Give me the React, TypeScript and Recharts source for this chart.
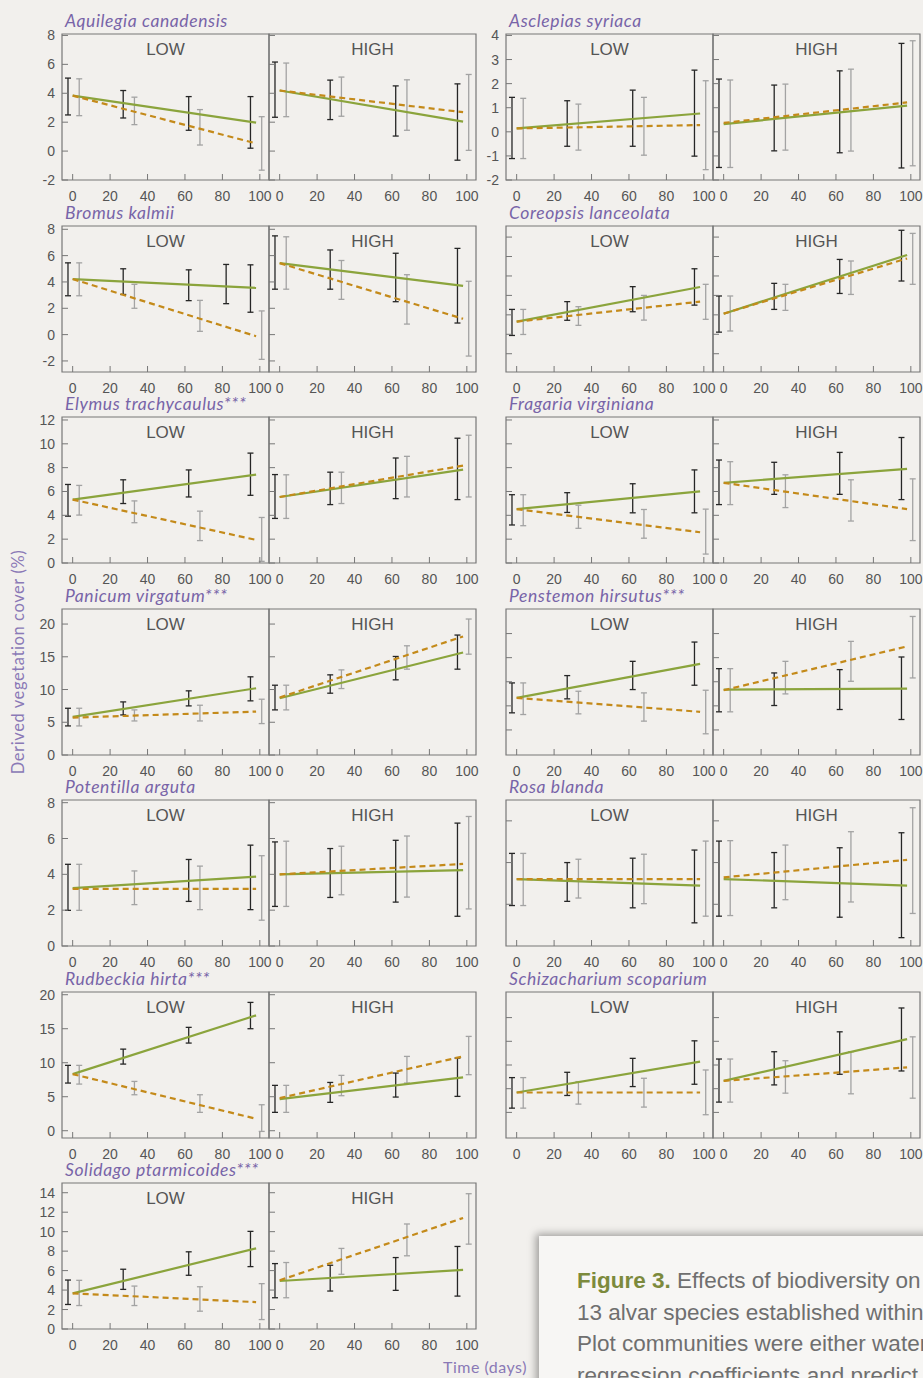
import React from 'react';
import { ComposedChart, Line, Scatter, ErrorBar, XAxis, YAxis, ReferenceArea } from 'recharts';

const SPECIES = [
  'Aquilegia canadensis', 'Asclepias syriaca', 'Bromus kalmii', 'Coreopsis lanceolata',
  'Elymus trachycaulus***', 'Fragaria virginiana', 'Panicum virgatum***', 'Penstemon hirsutus***',
  'Potentilla arguta', 'Rosa blanda', 'Rudbeckia hirta***', 'Schizacharium scoparium',
  'Solidago ptarmicoides***',
];

const X_TICKS = [0, 20, 40, 60, 80, 100];
const LINE_X = [0, 98];

const Y_DOMAINS: [number, number][] = [
  [-2, 8.1], [-2, 4.06], [-2.84, 8.25], [-0.94, 6.57], [0, 12.25], [0, 12.25], [0, 22.3],
  [-0.2, 30.1], [0, 8.15], [0, 7], [-1.07, 20.4], [-0.4, 30.4], [0, 15],
];
const Y_TICKS = [
  [-2, 0, 2, 4, 6, 8], [-2, -1, 0, 1, 2, 3, 4], [-2, 0, 2, 4, 6, 8], [0, 1, 2, 3, 4, 5, 6],
  [0, 2, 4, 6, 8, 10, 12], [0, 2, 4, 6, 8, 10, 12], [0, 5, 10, 15, 20], [5, 10, 15, 20, 25],
  [0, 2, 4, 6, 8], [2, 4, 6], [0, 5, 10, 15, 20], [5, 10, 15, 20, 25], [0, 2, 4, 6, 8, 10, 12, 14],
];
const Y_LABELLED = [true, true, true, false, true, false, true, false, true, false, true, false, true];

// regression lines: [value at day 0, value at day 98]
const LOW_GREEN = [[3.84, 1.97], [0.14, 0.76], [4.22, 3.55], [1.65, 3.43], [5.32, 7.42], [4.52, 6.01], [5.82, 10.2], [11.66, 18.7], [3.23, 3.87], [3.21, 2.89], [8.33, 16.96], [9.2, 15.7], [3.66, 8.28]];
const LOW_ORANGE = [[3.84, 0.53], [0.14, 0.28], [4.22, -0.12], [1.65, 2.68], [5.32, 1.94], [4.52, 2.58], [5.71, 6.63], [11.66, 8.76], [3.19, 3.19], [3.21, 3.21], [8.33, 1.76], [9.2, 9.2], [3.66, 2.76]];
const HIGH_GREEN = [[4.19, 2.04], [0.32, 1.09], [5.43, 3.7], [2.06, 5.08], [5.54, 7.84], [6.73, 7.89], [8.67, 15.66], [13.38, 13.59], [4.0, 4.24], [3.21, 2.89], [4.66, 7.84], [11.64, 20.45], [4.93, 6.07]];
const HIGH_ORANGE = [[4.19, 2.69], [0.37, 1.22], [5.43, 1.2], [2.06, 4.9], [5.54, 8.17], [6.73, 4.52], [8.78, 18.11], [13.24, 22.34], [4.0, 4.58], [3.29, 4.13], [4.8, 10.93], [11.64, 14.51], [5.0, 11.41]];

// error bars: [day, low, high]
const LOW_BLACK = [
  [[-2.5, 2.5, 5.05], [27, 2.29, 4.19], [62, 1.44, 3.77], [95, 0.2, 3.77]],
  [[-2.5, -1.11, 1.43], [27, -0.6, 1.29], [62, -0.6, 1.73], [95, -1.01, 2.56]],
  [[-2.5, 2.95, 5.45], [27, 3.05, 5.0], [62, 2.58, 4.92], [82, 2.35, 5.33], [95, 1.7, 5.3]],
  [[-2.5, 0.94, 2.28], [27, 1.72, 2.68], [62, 2.16, 3.45], [95, 2.5, 4.37]],
  [[-2.5, 3.93, 6.59], [27, 4.99, 6.98], [62, 5.54, 7.81], [95, 5.68, 9.22]],
  [[-2.5, 3.19, 5.73], [27, 4.24, 5.9], [62, 4.21, 6.65], [95, 4.21, 7.81]],
  [[-2.5, 4.44, 7.14], [27, 6.12, 8.11], [62, 7.5, 9.8], [95, 8.27, 11.94]],
  [[-2.5, 8.55, 14.76], [27, 11.45, 16.28], [62, 13.38, 19.24], [95, 14.28, 23.24]],
  [[-2.5, 1.99, 4.56], [62, 2.49, 4.83], [95, 2.03, 5.63]],
  [[-2.5, 1.94, 4.44], [27, 2.14, 4.0], [62, 1.83, 4.21], [95, 1.11, 4.6]],
  [[-2.5, 7.01, 9.61], [27, 9.8, 12.0], [62, 12.89, 15.2], [95, 15.0, 18.87]],
  [[-2.5, 5.9, 12.34], [27, 8.57, 13.46], [62, 10.45, 16.4], [95, 10.94, 20.1]],
  [[-2.5, 2.52, 5.03], [27, 4.07, 6.14], [62, 5.52, 7.93], [95, 6.41, 10.03]],
];
const LOW_GRAY = [
  [[3.5, 2.45, 5.0], [33, 1.83, 3.73], [68, 0.42, 2.87], [101, -1.32, 2.38]],
  [[3.5, -1.11, 1.39], [33, -0.76, 1.15], [68, -0.97, 1.43], [101, -1.57, 2.12]],
  [[3.5, 2.95, 5.45], [33, 2.0, 3.82], [68, 0.25, 2.6], [101, -1.88, 1.8]],
  [[3.5, 0.99, 2.28], [33, 1.46, 2.42], [68, 1.73, 3.0], [101, 1.77, 3.57]],
  [[3.5, 4.02, 6.51], [33, 3.38, 5.21], [68, 1.88, 4.35], [101, 0.14, 3.82]],
  [[3.5, 3.13, 5.73], [33, 2.91, 4.85], [68, 2.08, 4.49], [101, 0.75, 4.52]],
  [[3.5, 4.44, 7.14], [33, 5.2, 6.89], [68, 5.2, 7.6], [101, 4.8, 8.52]],
  [[3.5, 8.2, 14.76], [33, 8.34, 13.03], [68, 6.83, 12.69], [101, 4.2, 13.24]],
  [[3.5, 1.99, 4.56], [33, 2.31, 4.19], [68, 2.03, 4.46], [101, 1.44, 5.04]],
  [[3.5, 1.94, 4.44], [33, 2.3, 4.16], [68, 2.03, 4.4], [101, 1.43, 5.03]],
  [[3.5, 6.86, 9.61], [33, 5.29, 7.25], [68, 2.7, 5.29], [101, -0.1, 3.82]],
  [[3.5, 5.9, 12.34], [33, 6.75, 11.5], [68, 6.12, 12.2], [101, 4.51, 13.95]],
  [[3.5, 2.41, 5.0], [33, 2.41, 4.41], [68, 1.83, 4.34], [101, 0.97, 4.66]],
];
const HIGH_BLACK = [
  [[-2.5, 2.34, 6.16], [27, 2.18, 4.91], [62, 1.04, 4.51], [95, -0.63, 4.65]],
  [[-2.5, -1.48, 2.19], [27, -0.79, 1.94], [62, -0.87, 2.53], [95, -1.5, 3.67]],
  [[-2.5, 3.45, 7.5], [27, 3.45, 6.43], [62, 2.5, 6.18], [95, 0.88, 6.55]],
  [[-2.5, 1.11, 2.97], [27, 2.28, 3.62], [62, 3.1, 4.85], [95, 3.74, 6.35]],
  [[-2.5, 3.74, 7.42], [27, 4.9, 7.62], [62, 5.4, 8.81], [95, 5.32, 10.47]],
  [[-2.5, 4.9, 8.64], [27, 5.76, 8.45], [62, 5.76, 9.28], [95, 5.32, 10.53]],
  [[-2.5, 6.89, 10.66], [27, 9.44, 12.24], [62, 11.48, 15.05], [95, 13.11, 18.32]],
  [[-2.5, 8.76, 17.72], [27, 10.07, 16.83], [62, 9.24, 17.52], [95, 7.17, 20.14]],
  [[-2.5, 2.21, 5.81], [27, 2.71, 5.44], [62, 2.45, 5.9], [95, 1.66, 6.86]],
  [[-2.5, 1.43, 5.03], [27, 1.83, 4.48], [62, 1.38, 4.71], [95, 0.4, 5.43]],
  [[-2.5, 2.7, 6.67], [27, 4.17, 7.1], [62, 4.95, 8.48], [95, 5.05, 10.69]],
  [[-2.5, 7.17, 16.26], [27, 10.8, 17.8], [62, 13.04, 22.0], [95, 13.74, 27.03]],
  [[-2.5, 3.21, 6.72], [27, 3.9, 6.55], [62, 3.97, 7.34], [95, 3.38, 8.48]],
];
const HIGH_GRAY = [
  [[3.5, 2.38, 6.09], [33, 2.41, 5.12], [68, 1.44, 4.93], [101, 0.05, 5.3]],
  [[3.5, -1.48, 2.15], [33, -0.76, 1.98], [68, -0.8, 2.6], [101, -1.41, 3.78]],
  [[3.5, 3.45, 7.43], [33, 2.68, 5.63], [68, 0.8, 4.55], [101, -1.63, 4.05]],
  [[3.5, 1.17, 2.97], [33, 2.23, 3.57], [68, 3.05, 4.77], [101, 3.57, 6.19]],
  [[3.5, 3.74, 7.4], [33, 4.99, 7.62], [68, 5.54, 8.95], [101, 5.54, 10.72]],
  [[3.5, 4.9, 8.5], [33, 4.65, 7.4], [68, 3.52, 6.98], [101, 1.88, 7.06]],
  [[3.5, 6.89, 10.66], [33, 10.15, 13.0], [68, 13.11, 16.68], [101, 15.4, 20.77]],
  [[3.5, 8.76, 17.72], [33, 12.48, 19.24], [68, 15.1, 23.38], [101, 15.79, 28.55]],
  [[3.5, 2.21, 5.85], [33, 2.86, 5.57], [68, 2.73, 6.14], [101, 2.07, 7.23]],
  [[3.5, 1.46, 5.05], [33, 2.22, 4.84], [68, 2.11, 5.48], [101, 1.56, 6.63]],
  [[3.5, 2.7, 6.67], [33, 5.15, 8.14], [68, 7.01, 10.93], [101, 8.24, 13.87]],
  [[3.5, 7.17, 16.26], [33, 9.06, 15.9], [68, 8.92, 17.8], [101, 8.0, 20.94]],
  [[3.5, 3.21, 6.83], [33, 5.62, 8.28], [68, 7.52, 10.79], [101, 8.72, 13.9]],
];

const X_DOMAIN: [number, number] = [-5.7, 104.9];
const ROW_TOPS = [34, 225.5, 417, 608.5, 800, 991.5, 1183];
const COL_LEFTS = [62, 506];
const PLOT_W = 207;
const PLOT_H = 146;
const ML = 40;
const MR = 8;
const MT = 14;
const XH = 30;

const BG = '#f2f0ed';
const AXIS = '#777';
const TEXT = '#555';
const PURPLE = '#7864a8';
const GREEN = '#8ba43c';
const ORANGE = '#c48a1a';
const TICK_FONT = '"Liberation Sans", Arial, sans-serif';

const toLine = (v: number[]) => LINE_X.map((x, k) => ({ x, y: v[k] }));
const toBars = (b: number[][]) =>
  b.map(([x, lo, hi]) => ({ x, y: (lo + hi) / 2, err: (hi - lo) / 2 }));

const XTick = (props: any) => {
  const { x, y, payload } = props;
  return (
    <g>
      <line x1={x} x2={x} y1={y} y2={y - 6} stroke={AXIS} />
      <text x={x} y={y + 16} textAnchor="middle" dominantBaseline="central" fontSize={14}
        fontFamily={TICK_FONT} fill={TEXT}>{payload.value}</text>
    </g>
  );
};

const YTick = (props: any) => {
  const { x, y, payload, labelled } = props;
  return (
    <g>
      <line x1={x} x2={x + 6} y1={y} y2={y} stroke={AXIS} />
      {labelled ? (
        <text x={x - 7} y={y} textAnchor="end" dominantBaseline="central" fontSize={14}
          fontFamily={TICK_FONT} fill={TEXT}>{payload.value}</text>
      ) : null}
    </g>
  );
};

const SubPanel = ({ i, high }: { i: number; high: boolean }) => {
  const row = Math.floor(i / 2);
  const col = i % 2;
  const left = COL_LEFTS[col] + (high ? PLOT_W : 0);
  const top = ROW_TOPS[row];
  const yDomain = Y_DOMAINS[i];
  const labelled = Y_LABELLED[i] && !high;
  const green = toLine(high ? HIGH_GREEN[i] : LOW_GREEN[i]);
  const orange = toLine(high ? HIGH_ORANGE[i] : LOW_ORANGE[i]);
  const black = toBars(high ? HIGH_BLACK[i] : LOW_BLACK[i]);
  const gray = toBars(high ? HIGH_GRAY[i] : LOW_GRAY[i]);

  return (
    <div style={{ position: 'absolute', left: left - ML, top: top - MT }}>
      <ComposedChart width={PLOT_W + ML + MR} height={PLOT_H + MT + XH}
        margin={{ top: MT, right: MR, bottom: 0, left: 0 }}>
        <XAxis type="number" dataKey="x" domain={X_DOMAIN} ticks={X_TICKS} allowDataOverflow
          interval={0} height={XH} tickSize={0} tickMargin={0} tickLine={false} axisLine={false}
          tick={(p: any) => <XTick {...p} />} />
        <YAxis type="number" dataKey="y" domain={yDomain} ticks={Y_TICKS[i]} allowDataOverflow
          interval={0} width={ML} tickSize={0} tickMargin={0} tickLine={false} axisLine={false}
          tick={(p: any) => <YTick {...p} labelled={labelled} />} />
        <ReferenceArea x1={X_DOMAIN[0]} x2={X_DOMAIN[1]} y1={yDomain[0]} y2={yDomain[1]}
          fill="none" stroke={AXIS} strokeWidth={1.2} ifOverflow="visible" />
        <Scatter data={gray} isAnimationActive={false} shape={() => <g />}>
          <ErrorBar dataKey="err" direction="y" width={3} stroke="#a3a3a3" strokeWidth={1.3}
            isAnimationActive={false} />
        </Scatter>
        <Scatter data={black} isAnimationActive={false} shape={() => <g />}>
          <ErrorBar dataKey="err" direction="y" width={3} stroke="#262626" strokeWidth={1.3}
            isAnimationActive={false} />
        </Scatter>
        <Line data={green} dataKey="y" stroke={GREEN} strokeWidth={2.2} dot={false}
          isAnimationActive={false} />
        <Line data={orange} dataKey="y" stroke={ORANGE} strokeWidth={2.2} strokeDasharray="6 4"
          dot={false} isAnimationActive={false} />
      </ComposedChart>
      <div style={{
        position: 'absolute', left: ML, top: MT + 6, width: PLOT_W, textAlign: 'center',
        font: `17px ${TICK_FONT}`, color: TEXT,
      }}>{high ? 'HIGH' : 'LOW'}</div>
    </div>
  );
};

export default function App() {
  return (
    <div style={{
      position: 'absolute', left: 0, top: 0, width: 923, height: 1378, background: BG,
      overflow: 'hidden',
    }}>
      {SPECIES.map((name, i) => (
        <React.Fragment key={name}>
          <SubPanel i={i} high={false} />
          <SubPanel i={i} high={true} />
          <div style={{
            position: 'absolute', left: COL_LEFTS[i % 2] + 3, top: ROW_TOPS[Math.floor(i / 2)] - 24,
            font: 'italic 17.5px Lato, sans-serif', letterSpacing: 0.6, color: PURPLE,
            whiteSpace: 'nowrap',
          }}>{name}</div>
        </React.Fragment>
      ))}
      <div style={{
        position: 'absolute', left: 18, top: 662, transform: 'translate(-50%, -50%) rotate(-90deg)',
        font: '16.5px Lato, sans-serif', letterSpacing: 0.6, color: '#8a79b6', whiteSpace: 'nowrap',
      }}>Derived vegetation cover (%)</div>
      <div style={{
        position: 'absolute', left: 443, top: 1357, font: '16px Lato, sans-serif',
        letterSpacing: 0.5, color: '#8a79b6', whiteSpace: 'nowrap',
      }}>Time (days)</div>
      <div style={{
        position: 'absolute', left: 539, top: 1236, width: 440, height: 200, background: '#f7f6f4',
        boxShadow: '-3px -2px 8px rgba(0,0,0,0.35)', boxSizing: 'border-box',
        padding: '29px 0 0 38px', font: '22.5px "Liberation Sans", Arial, sans-serif',
        color: '#6f6f6f', lineHeight: '31.5px', whiteSpace: 'nowrap',
      }}>
        <span style={{ fontWeight: 'bold', color: '#7c8a3c' }}>Figure 3.</span> Effects of biodiversity on<br />
        13 alvar species established within<br />
        Plot communities were either water<br />
        regression coefficients and predict
      </div>
    </div>
  );
}
